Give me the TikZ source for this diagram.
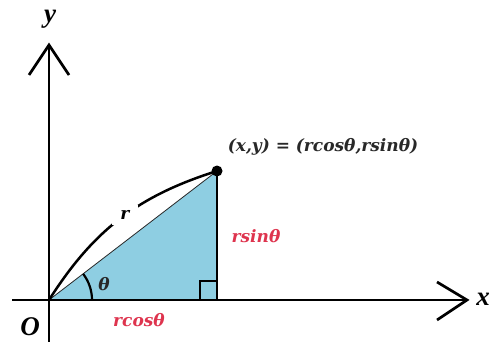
\documentclass[tikz,border=0pt]{standalone}
\usepackage{fontspec}
\setmainfont{Liberation Serif}
\newfontfamily\lblfont{DejaVu Serif}
\definecolor{tri}{RGB}{142,206,226}
\definecolor{lab}{RGB}{222,52,78}
\definecolor{dk}{RGB}{40,40,40}
\begin{document}
\begin{tikzpicture}[x=1pt,y=-1pt,
  axis/.style={line width=2.7pt,black},
  chev/.style={line width=2.7pt,black,line join=miter},
  lbl/.style={font=\lblfont\bfseries\itshape\fontsize{17}{17}\selectfont,inner sep=0pt},
  redlbl/.style={lbl,text=lab},
  big/.style={font=\bfseries\itshape\fontsize{27}{27}\selectfont,inner sep=0pt}]
\useasboundingbox (0,0) rectangle (492,342);
\coordinate (O) at (49,300);
\coordinate (P) at (217,171);
\coordinate (F) at (217,300);
\coordinate (xl) at (12,300);
\coordinate (xt) at (467,300);
\coordinate (yb) at (49,342);
\coordinate (yt) at (49,45);
% triangle
\fill[tri] (O) -- (P) -- (F) -- cycle;
\draw[line width=0.8pt,dk] (O) -- (P);
% angle arc
\draw[line width=2.2pt] (92,300) arc[start angle=0,end angle=-37.5,radius=43];
% right angle mark
\draw[line width=2.2pt] (200,300) -- (200,281) -- (217,281);
% vertical side
\draw[line width=2.6pt] (P) -- (F);
% axes
\draw[axis] (xl) -- (xt);
\draw[axis] (yb) -- (yt);
\draw[chev] (437,282) -- (xt) -- (437,320);
\draw[chev] (29,75) -- (yt) -- (69,75);
% r arc
\draw[line width=2.5pt] (O) to[bend left=20] node[pos=0.53,fill=white,minimum width=26pt,minimum height=20pt,lbl] (r) {r} (P);
% point
\fill (P) circle (5.5);
% labels
\node[lbl,text=dk] (pl) at (323,147) {(x,y) = (rcosθ,rsinθ)};
\node[redlbl] (rs) at (256,236) {rsinθ};
\node[redlbl] (rc) at (139,320) {rcosθ};
\node[lbl,text=dk] (th) at (104,284) {θ};
\node[big] (o) at (30,327) {O};
\node[big] (y) at (50,19) {y};
\node[big] (x) at (483,299) {x};
\end{tikzpicture}
\end{document}
